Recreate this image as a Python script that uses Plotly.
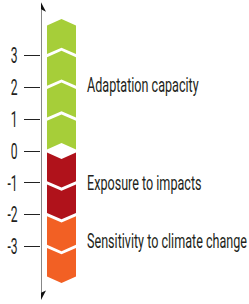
import plotly.graph_objects as go

# ---- data ----
tick_values = [3, 2, 1, 0, -1, -2, -3]
tick_labels = ["3", "2", "1", "0", "-1", "-2", "-3"]

segment_names = ["Adaptation capacity", "Exposure to impacts", "Sensitivity to climate change"]
segment_start = [0, 0, -2]          # where each segment begins on the scale
segment_units = [4, -2, -2]         # signed number of chevrons (direction)
segment_colors = ["#A6CE39", "#B0121B", "#F26024"]
label_values = [2.08, -1.02, -2.84]

# ---- layout constants ----
Y_TOP, Y_BOT = 4.748, -4.811
PX = (Y_TOP - Y_BOT) / 304.0        # data units per pixel
X_MAX = 208                         # x axis in pixel-like units (plot starts at 41px)
BAR_X0, BAR_X1 = 6, 35
GAP = 0.05
TIP = 0.2
FONT = "Roboto"
TEXT_COLOR = "#231F20"

shapes = []
xm = (BAR_X0 + BAR_X1) / 2
for start, units, color in zip(segment_start, segment_units, segment_colors):
    n = abs(units)
    sgn = 1 if units > 0 else -1
    for k in range(n):
        a = start + sgn * k
        b = start + sgn * (k + 1)
        lo, hi = min(a, b) + GAP, max(a, b) - GAP
        if sgn > 0:  # pointing up
            path = (f"M {BAR_X0},{lo} L {xm},{lo + TIP} L {BAR_X1},{lo} "
                    f"L {BAR_X1},{hi} L {xm},{hi + TIP} L {BAR_X0},{hi} Z")
        else:        # pointing down
            path = (f"M {BAR_X0},{hi} L {xm},{hi - TIP} L {BAR_X1},{hi} "
                    f"L {BAR_X1},{lo} L {xm},{lo - TIP} L {BAR_X0},{lo} Z")
        shapes.append(dict(type="path", path=path, xref="x", yref="y",
                           fillcolor=color, line=dict(width=0), layer="above"))

# axis line with arrowheads
AX_X = -0.3
tip_top = Y_TOP - 1.7 * PX
tip_bot = Y_BOT + 3.5 * PX
head_h = 10 * PX
notch = 2.5 * PX
shapes.append(dict(type="line", x0=AX_X, x1=AX_X, y0=tip_bot + head_h - notch,
                   y1=tip_top - head_h + notch, xref="x", yref="y",
                   line=dict(color="#111111", width=1.6)))
for tip, d in [(tip_top, -1), (tip_bot, 1)]:
    base = tip + d * head_h
    path = (f"M {AX_X},{tip} L {AX_X - 5.3},{base} L {AX_X},{base - d * notch} "
            f"L {AX_X + 5.3},{base} Z")
    shapes.append(dict(type="path", path=path, xref="x", yref="y",
                       fillcolor="#111111", line=dict(width=0)))

annotations = []
for name, v in zip(segment_names, label_values):
    annotations.append(dict(x=43.5, y=v, xref="x", yref="y", text=name, showarrow=False,
                            xanchor="left", yanchor="middle", align="left",
                            font=dict(family=FONT, size=21, color=TEXT_COLOR)))

fig = go.Figure()
fig.add_trace(go.Scatter(x=[None], y=[None], showlegend=False, hoverinfo="skip"))
fig.update_layout(
    width=249, height=304,
    margin=dict(l=41, r=0, t=0, b=0),
    paper_bgcolor="white", plot_bgcolor="white",
    showlegend=False,
    shapes=shapes, annotations=annotations,
    xaxis=dict(range=[0, X_MAX], visible=False, fixedrange=True),
    yaxis=dict(range=[Y_BOT, Y_TOP], showgrid=False, zeroline=False, showline=False,
               automargin=False,
               tickvals=tick_values, ticktext=tick_labels,
               ticks="outside", ticklen=16, tickwidth=1, tickcolor="#222222",
               ticklabelstandoff=2,
               tickfont=dict(family=FONT, size=22, color=TEXT_COLOR), fixedrange=True),
)

# Page without default body margin; condensed look of the reference typeface
post = """
document.body.style.margin = '0';
function squeeze(t, sx){
  var x = parseFloat(t.getAttribute('x')) || 0;
  var tr = t.getAttribute('transform') || '';
  t.setAttribute('transform', tr + ' translate(' + x + ',0) scale(' + sx + ',1) translate(' + (-x) + ',0)');
}
document.querySelectorAll('.annotation-text').forEach(function(t){ squeeze(t, 0.6); });
document.querySelectorAll('.ytick text').forEach(function(t){ squeeze(t, 0.55); });
"""
fig.write_html("out.html", config={"displayModeBar": False}, post_script=post)
